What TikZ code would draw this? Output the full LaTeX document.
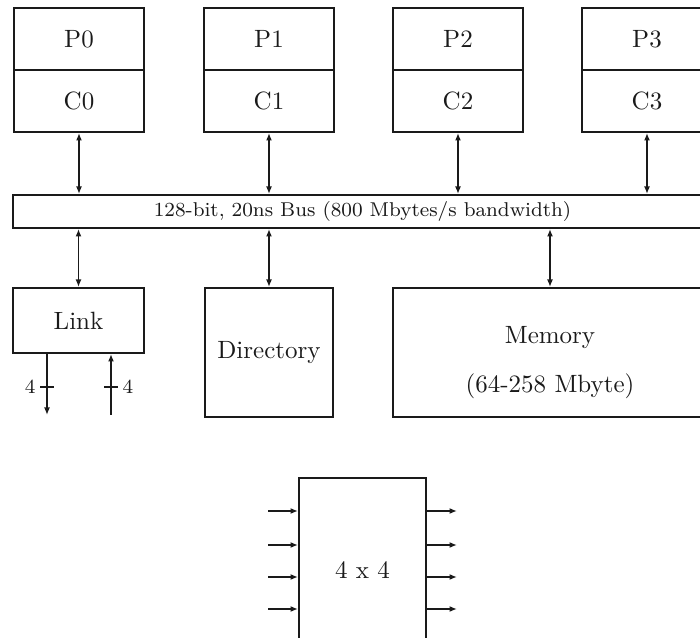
\documentclass[tikz,border=0pt]{standalone}
\usepackage{tikz}
\usetikzlibrary{arrows.meta,positioning,calc}
\definecolor{ink}{HTML}{1A1A1A}
\tikzset{
  box/.style={draw=ink, line width=0.8pt, inner sep=2pt, align=center, text=ink, font=\normalsize},
  arr/.style={-{Latex[length=3pt,width=2.4pt]}, line width=0.6pt, draw=ink},
  darr/.style={{Latex[length=3pt,width=2.4pt]}-{Latex[length=3pt,width=2.4pt]}, line width=0.6pt, draw=ink},
  tick/.style={line width=0.6pt, draw=ink},
  lab/.style={font=\footnotesize, text=ink, inner sep=1.5pt},
}

\begin{document}
\begin{tikzpicture}[x=0.4pt, y=-0.4pt]
  \useasboundingbox (0,0) rectangle (700,638);
  \clip (0,0) rectangle (700,638);
  % processor / cache pairs
  \foreach \i/\x in {0/79,1/269,2/458,3/647}{
    \node[box, minimum width=52pt, minimum height=24.8pt] (p\i) at (\x,39) {P\i};
    \node[box, minimum width=52pt, minimum height=24.8pt] (c\i) at (\x,101) {C\i};
  }
  % bus
  \node[box, minimum width=279.6pt, minimum height=13.2pt, font=\footnotesize] (bus) at (362.5,211.5)
    {128-bit, 20ns Bus (800 Mbytes/s bandwidth)};
  \foreach \i in {0,...,3}
    \draw[darr] (c\i.south) -- (c\i.south |- bus.north);
  % lower row
  \node[box, minimum width=52.4pt, minimum height=26pt] (link) at (78.5,320.5) {Link};
  \node[box, minimum width=51.2pt, minimum height=51.6pt] (dir) at (269,352.5) {Directory};
  \node[box, minimum width=125.6pt, minimum height=51.6pt] (mem) at (550,352.5) {};
  \node[text=ink, align=center] (memtxt) at ([yshift=-4pt]mem.center) {Memory\\[7.6pt](64-258 Mbyte)};
  \draw[darr] (bus.south -| link.north) -- (link.north);
  \draw[darr] (bus.south -| dir.north) -- (dir.north);
  \draw[darr] (bus.south -| mem.north) -- (mem.north);
  % link ports
  \coordinate (lo) at (47,415);
  \coordinate (li) at (111,415);
  \draw[arr] (lo |- link.south) -- (lo);
  \draw[arr] (li) -- (li |- link.south);
  \coordinate (t1) at (47,387);
  \coordinate (t2) at (111,387);
  \draw[tick] ($(t1)+(-7,0)$) node[lab, left=0pt] {4} -- ($(t1)+(7,0)$);
  \draw[tick] ($(t2)+(-7,0)$) -- ($(t2)+(7,0)$) node[lab, right=0pt] {4};
  % 4x4 switch
  \node[box, minimum width=50.8pt, minimum height=73.6pt] (sw) at (362.5,570) {4 x 4};
  \foreach \y [count=\k] in {511,545,577,609}{
    \coordinate (in\k) at (268,\y);
    \coordinate (out\k) at (457,\y);
    \draw[arr] (in\k) -- (in\k -| sw.west);
    \draw[arr] (out\k -| sw.east) -- (out\k);
  }
\end{tikzpicture}
\end{document}
